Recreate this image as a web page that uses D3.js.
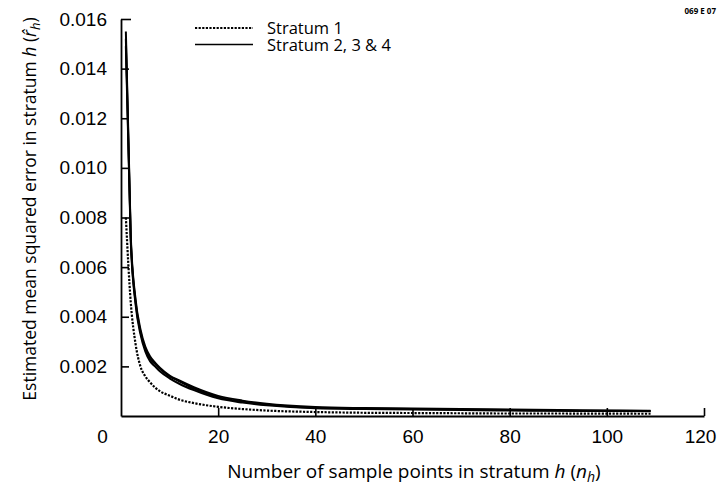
<!DOCTYPE html>
<html>
<head>
<meta charset="utf-8">
<script src="https://cdn.jsdelivr.net/npm/d3@7.9.0/dist/d3.min.js"></script>
<style>
  body { margin: 0; background: #fff; }
  svg { display: block; font-family: "Open Sans", sans-serif; }
  .tick text { font-size: 19px; fill: #000; }
</style>
</head>
<body>
<svg id="chart" width="719" height="487"></svg>
<script>
// sample sizes read along the x axis
const sampleSizes = [1, 2, 3, 4, 5, 6, 7, 8, 10, 12, 15, 20, 25, 30, 40, 50, 60, 70, 80, 90, 100, 109];

// estimated MSE per stratum
const stratum1 = [0.0080, 0.0046, 0.0029, 0.0020, 0.0016, 0.00135, 0.00115, 0.0010, 0.00082, 0.00066, 0.00052, 0.00037,
  0.00028, 0.00022, 0.00016, 0.00013, 0.00012, 0.00011, 0.00010, 0.00010, 0.000095, 0.00009];
const stratum2 = [0.0155, 0.0073, 0.0047, 0.0035, 0.0028, 0.0024, 0.00215, 0.00195, 0.00163, 0.00143, 0.00116, 0.00081,
  0.00062, 0.00049, 0.00036, 0.00032, 0.00030, 0.00028, 0.00026, 0.00024, 0.00022, 0.00021];
const stratum3 = [0.0152, 0.0072, 0.0046, 0.0034, 0.0027, 0.0023, 0.0021, 0.0019, 0.0016, 0.0014, 0.0011, 0.00076,
  0.00058, 0.00046, 0.00033, 0.00030, 0.00028, 0.00026, 0.00024, 0.00022, 0.00021, 0.00020];
const stratum4 = [0.0149, 0.0071, 0.0045, 0.0033, 0.0026, 0.0022, 0.0020, 0.0018, 0.00152, 0.0013, 0.00104, 0.00071,
  0.00054, 0.00043, 0.00031, 0.00028, 0.00026, 0.00024, 0.00022, 0.00021, 0.00020, 0.00019];

const xTicks = [0, 20, 40, 60, 80, 100, 120];
const yTicks = [0.002, 0.004, 0.006, 0.008, 0.010, 0.012, 0.014, 0.016];
const legendLabels = ['Stratum 1', 'Stratum 2, 3 & 4'];

const svg = d3.select('#chart');
const x = d3.scaleLinear().domain([0, 120]).range([121, 704]);
const y = d3.scaleLinear().domain([0, 0.016]).range([416, 19]);

// x axis, ticks pointing up into the plot
const xAxis = svg.append('g')
  .attr('transform', `translate(0,${y(0)})`)
  .call(d3.axisBottom(x).tickValues(xTicks).tickSizeInner(-8).tickSizeOuter(0).tickPadding(14));
xAxis.select('.domain').attr('stroke', '#000').attr('stroke-width', 1.8);
xAxis.selectAll('.tick line').attr('stroke', '#000').attr('stroke-width', 1.6);
xAxis.selectAll('.tick').filter(d => d === 0).select('line').remove();
xAxis.selectAll('.tick').filter(d => d === 0).select('text').attr('x', -19);
// last label sits against the right edge
xAxis.selectAll('.tick').filter(d => d === 120).select('text').attr('x', -4);

// y axis, ticks pointing right
const yAxis = svg.append('g')
  .attr('transform', `translate(${x(0)},0)`)
  .call(d3.axisLeft(y).tickValues(yTicks).tickFormat(d3.format('.3f')).tickSizeInner(-8).tickSizeOuter(0).tickPadding(14));
yAxis.select('.domain').attr('stroke', '#000').attr('stroke-width', 1.8);
yAxis.selectAll('.tick line').attr('stroke', '#000').attr('stroke-width', 1.6);
yAxis.selectAll('.tick').filter(d => d === 0.016).select('line').attr('x2', 10);

const line = d3.line()
  .x((d, i) => x(sampleSizes[i]))
  .y(d => y(d))
  .curve(d3.curveMonotoneX);

[stratum4, stratum3, stratum2].forEach(series => {
  svg.append('path')
    .attr('d', line(series))
    .attr('fill', 'none')
    .attr('stroke', '#000')
    .attr('stroke-width', 2);
});

svg.append('path')
  .attr('d', line(stratum1))
  .attr('fill', 'none')
  .attr('stroke', '#000')
  .attr('stroke-width', 2.2)
  .attr('stroke-dasharray', '2.2,1.4');

// legend
const legend = svg.append('g');
legendLabels.forEach((label, i) => {
  const ly = 28 + i * 16.5;
  legend.append('line')
    .attr('x1', 195).attr('x2', 253)
    .attr('y1', ly).attr('y2', ly)
    .attr('stroke', '#000')
    .attr('stroke-width', i === 0 ? 2 : 1.6)
    .attr('stroke-dasharray', i === 0 ? '2.2,1.4' : null);
  legend.append('text')
    .attr('x', 267).attr('y', ly + 6)
    .attr('font-size', 16.5)
    .text(label);
});

// axis titles
const xTitle = svg.append('text')
  .attr('x', 414).attr('y', 478)
  .attr('text-anchor', 'middle')
  .attr('font-size', 19);
xTitle.append('tspan').text('Number of sample points in stratum ');
xTitle.append('tspan').attr('font-style', 'italic').text('h');
xTitle.append('tspan').text(' (');
xTitle.append('tspan').attr('font-style', 'italic').text('n');
xTitle.append('tspan').attr('font-style', 'italic').attr('font-size', 14).attr('dy', 4).text('h');
xTitle.append('tspan').attr('dy', -4).text(')');

const yTitle = svg.append('text')
  .attr('transform', 'translate(36,209) rotate(-90)')
  .attr('text-anchor', 'middle')
  .attr('font-size', 17.5);
yTitle.append('tspan').text('Estimated mean squared error in stratum ');
yTitle.append('tspan').attr('font-style', 'italic').text('h');
yTitle.append('tspan').text(' (');
yTitle.append('tspan').attr('font-style', 'italic').text('r\u0302');
yTitle.append('tspan').attr('font-style', 'italic').attr('font-size', 13).attr('dy', 4).text('h');
yTitle.append('tspan').attr('dy', -4).text(')');

svg.append('text')
  .attr('x', 716).attr('y', 14)
  .attr('text-anchor', 'end')
  .attr('font-size', 8)
  .attr('font-weight', 'bold')
  .text('069 E 07');
</script>
</body>
</html>
